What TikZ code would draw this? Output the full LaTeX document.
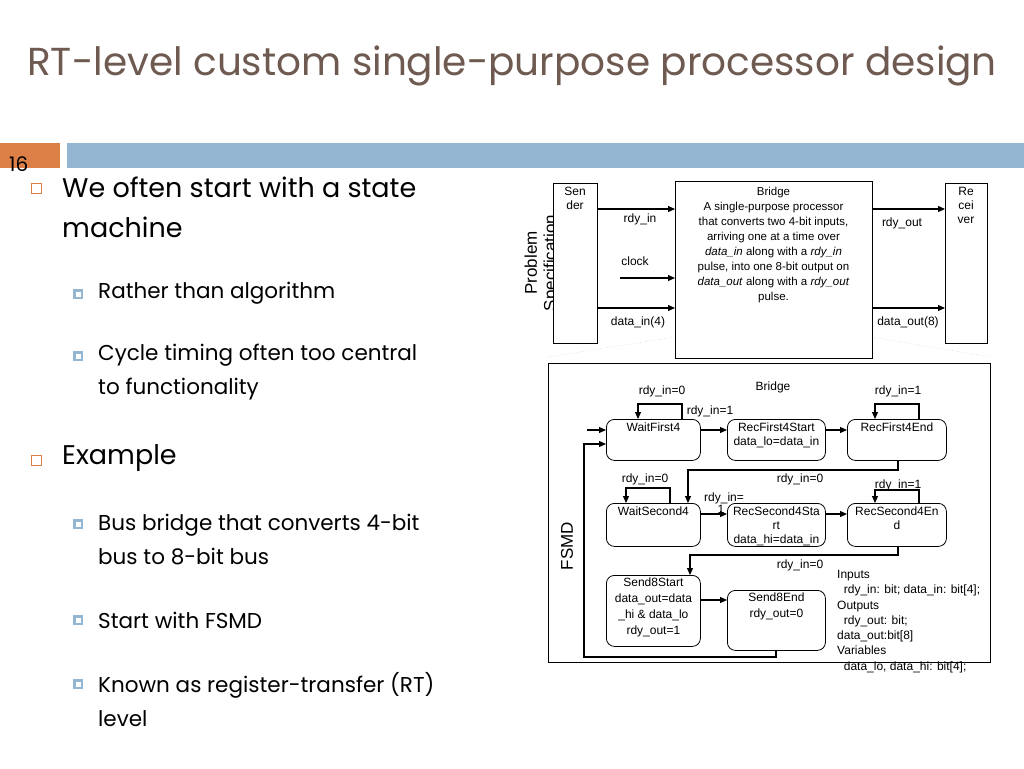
\documentclass[tikz,border=0pt]{standalone}
\usepackage{fontspec}
\setmainfont{Poppins}
\newfontfamily\arial{Liberation Sans}
\usetikzlibrary{arrows.meta}
\definecolor{titlec}{HTML}{6E5A50}
\definecolor{orangec}{HTML}{DD8047}
\definecolor{bluec}{HTML}{94B6D2}
\begin{document}
\begin{tikzpicture}[x=1pt,y=-1pt,
  dg/.style={font=\arial\fontsize{12}{14}\selectfont},
  st/.style={draw,rounded corners=8pt,line width=0.8pt,align=center,anchor=north west,inner sep=0pt},
  lb/.style={dg,inner sep=1pt},
  ar/.style={-{Triangle[length=7pt,width=6pt]},line width=1.1pt},
  ln/.style={line width=1.1pt},
  box/.style={draw,line width=0.8pt,fill=white},
  bul/.style={anchor=west,font=\fontsize{27}{40}\selectfont,align=left,inner sep=0pt},
  sbul/.style={anchor=west,font=\fontsize{21.5}{34}\selectfont,align=left,inner sep=0pt}]
\useasboundingbox (0,0) rectangle (1024,768);
\fill[white] (0,0) rectangle (1024,768);
% header
\node[anchor=west,text=titlec,font=\fontsize{39}{44}\selectfont,inner sep=0pt] (title) at (27,66) {RT-level custom single-purpose processor design};
\fill[orangec] (0,143) rectangle (60,168);
\fill[bluec] (67,143) rectangle (1024,168);
\node[anchor=west,font=\fontsize{20}{20}\selectfont,inner sep=0pt] (num) at (9,164) {16};
% bullets
\foreach \y in {188,460}{\draw[orangec,line width=0.7pt] (31,\y-5) rectangle (41,\y+5);}
\foreach \y in {294,356,524,620,684}{\fill[bluec] (73,\y-5) rectangle (83,\y+5);\fill[white] (75.5,\y-2.5) rectangle (80.5,\y+2.5);}
\node[bul] (b1) at (62,207) {We often start with a state\\machine};
\node[sbul] (s1) at (98,293) {Rather than algorithm};
\node[sbul] (s2) at (98,372) {Cycle timing often too central\\to functionality};
\node[bul] (b2) at (62,458) {Example};
\node[sbul] (s3) at (98,540) {Bus bridge that converts 4-bit\\bus to 8-bit bus};
\node[sbul] (s4) at (98,620) {Start with FSMD};
\node[sbul] (s5) at (98,700) {Known as register-transfer (RT)\\level};
% problem spec
\node[dg,rotate=90,font=\arial\fontsize{17}{19}\selectfont,align=center] (ps) at (542,263) {Problem\\Specification};
\draw[gray!60,dotted] (548,357) -- (675,337) (872,337) -- (990,357);
\node[box,minimum width=44pt,minimum height=160pt,anchor=north west] (snd) at (553,183) {};
\node[lb,align=center,anchor=north] at (575,186) {Sen\\der};
\node[box,minimum width=197pt,minimum height=177pt,anchor=north west] (brg) at (675,181) {};
\node[lb,align=center,anchor=north,font=\arial\fontsize{11.5}{15}\selectfont] (brt) at (773.5,186) {Bridge\\A single-purpose processor\\that converts two 4-bit inputs,\\arriving one at a time over\\\textit{data\_in} along with a \textit{rdy\_in}\\pulse, into one 8-bit output on\\\textit{data\_out} along with a \textit{rdy\_out}\\pulse.};
\node[box,minimum width=42pt,minimum height=160pt,anchor=north west] (rcv) at (945,183) {};
\node[lb,align=center,anchor=north] at (966,186) {Re\\cei\\ver};
\coordinate (ck) at (620,278);
\draw[ar] (snd.east|-0,209) -- (brg.west|-0,209);
\draw[ar] (ck) -- (brg.west|-ck);
\draw[ar] (snd.east|-0,308) -- (brg.west|-0,308);
\draw[ar] (brg.east|-0,209) -- (rcv.west|-0,209);
\draw[ar] (brg.east|-0,308) -- (rcv.west|-0,308);
\node[lb] at (640,219) {rdy\_in};
\node[lb] at (635,261) {clock};
\node[lb] at (638,322) {data\_in(4)};
\node[lb] at (902,223) {rdy\_out};
\node[lb] at (908,322) {data\_out(8)};
% FSMD
\node[box,minimum width=442pt,minimum height=299pt,anchor=north west] (fsmd) at (548,363) {};
\node[dg,rotate=90,font=\arial\fontsize{17}{18}\selectfont] (fl) at (567,546) {FSMD};
\node[lb] at (773,387) {Bridge};
\node[lb] at (721,509) {1};
\node[st,minimum width=94pt,minimum height=41pt] (w1) at (606,419) {};
\node[st,minimum width=98pt,minimum height=41pt] (r1s) at (727,419) {};
\node[st,minimum width=99pt,minimum height=41pt] (r1e) at (847,419) {};
\node[st,minimum width=94pt,minimum height=43pt] (w2) at (606,503) {};
\node[st,minimum width=98pt,minimum height=43pt] (r2s) at (727,503) {};
\node[st,minimum width=99pt,minimum height=43pt] (r2e) at (847,503) {};
\node[st,minimum width=94pt,minimum height=71pt] (s8s) at (606,575) {};
\node[st,minimum width=98pt,minimum height=60pt] (s8e) at (727,590) {};
\node[lb,anchor=north] at ([yshift=-3pt]w1.north) {WaitFirst4};
\node[lb,anchor=north,align=center] at ([yshift=-3pt]r1s.north) {RecFirst4Start\\data\_lo=data\_in};
\node[lb,anchor=north] at ([yshift=-3pt]r1e.north) {RecFirst4End};
\node[lb,anchor=north] at ([yshift=-3pt]w2.north) {WaitSecond4};
\node[lb,anchor=north,align=center] at ([yshift=-3pt]r2s.north) {RecSecond4Sta\\rt\\data\_hi=data\_in};
\node[lb,anchor=north,align=center] at ([yshift=-3pt]r2e.north) {RecSecond4En\\d};
\node[lb,anchor=north,align=center,font=\arial\fontsize{12}{16}\selectfont] at ([yshift=-2pt]s8s.north) {Send8Start\\data\_out=data\\\_hi \& data\_lo\\rdy\_out=1};
\node[lb,anchor=north,align=center,font=\arial\fontsize{12}{16}\selectfont] at ([yshift=-2pt]s8e.north) {Send8End\\rdy\_out=0};
% transitions
\coordinate (in1) at (587,430);
\draw[ar] (in1) -- (w1.west|-in1);
\draw[ar] (w1.east|-in1) -- (r1s.west|-in1);
\draw[ar] (r1s.east|-in1) -- (r1e.west|-in1);
\draw[ar] (682,419) |- (638,404) -- (638,419);
\draw[ar] (919,419) |- (875,404) -- (875,419);
\draw[ar] (898,460) |- (688,470) -- (688,503);
\draw[ar] (670,503) |- (626,488) -- (626,503);
\draw[ar] (w2.east|-0,514) -- (r2s.west|-0,514);
\draw[ar] (r2s.east|-0,514) -- (r2e.west|-0,514);
\draw[ar] (919,503) |- (875,490) -- (875,503);
\draw[ar] (898,546) |- (690,555) -- (690,575);
\draw[ar] (s8s.east|-0,600) -- (s8e.west|-0,600);
\draw[ar] (776,650) |- (584,657) |- (w1.west|-0,444);
\node[lb] at (662,391) {rdy\_in=0};
\node[lb] at (710,411) {rdy\_in=1};
\node[lb] at (898,391) {rdy\_in=1};
\node[lb] at (800,479) {rdy\_in=0};
\node[lb] at (645,479) {rdy\_in=0};
\node[lb] at (724,498) {rdy\_in=};
\node[lb] at (898,485) {rdy\_in=1};
\node[lb] at (800,565) {rdy\_in=0};
\node[lb,anchor=north west,align=left,font=\arial\fontsize{12}{15.3}\selectfont] (vars) at (836,569) {Inputs\\\ \ rdy\_in: bit; data\_in: bit[4];\\Outputs\\\ \ rdy\_out: bit;\\data\_out:bit[8]\\Variables\\\ \ data\_lo, data\_hi: bit[4];};
\end{tikzpicture}
\end{document}
